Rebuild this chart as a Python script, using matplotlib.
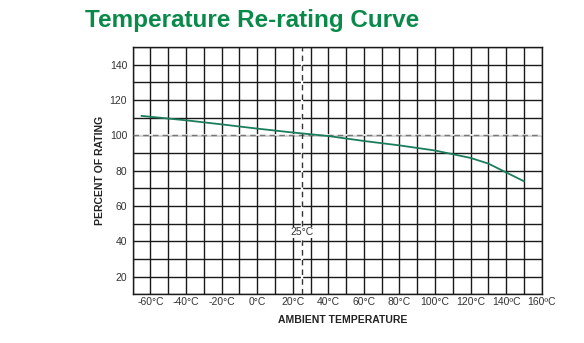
import matplotlib
matplotlib.use("Agg")
import matplotlib.pyplot as plt
import numpy as np

temps = [-65, -40, -20, 0, 20, 40, 60, 80, 100, 120, 130, 150]
percent = [111, 108.5, 106.2, 103.8, 101.6, 99.6, 96.8, 94.3, 91.4, 87.2, 84, 74]
xticks = [-60, -40, -20, 0, 20, 40, 60, 80, 100, 120, 140, 160]
xlabels = ["-60°C", "-40°C", "-20°C", "0°C", "20°C", "40°C", "60°C", "80°C", "100°C", "120°C", "140ºC", "160ºC"]
yticks = [20, 40, 60, 80, 100, 120, 140]

plt.rcParams['font.family'] = ['Liberation Sans', 'DejaVu Sans']

fig = plt.figure(figsize=(5.84, 3.43), dpi=100)
ax = fig.add_axes([132.7/584, 1-294.3/343, 409/584, (294.3-47)/343])
ax.set_xlim(-70, 160)
ax.set_ylim(10, 150)

for xv in np.arange(-70, 161, 10):
    ax.axvline(xv, color='#1a1a1a', lw=1.0, zorder=1)
for yv in np.arange(10, 151, 10):
    ax.axhline(yv, color='#1a1a1a', lw=1.0, zorder=1)

ax.axhline(100, color='white', lw=1.2, zorder=2)
ax.axhline(100, color='#777777', lw=1.0, ls=(0, (4, 3)), zorder=3)
ax.axvline(25, color='white', lw=1.6, zorder=2)
ax.axvline(25, color='#333333', lw=1.0, ls=(0, (4, 3)), zorder=3)
ax.text(25, 45, "25°C", ha='center', va='center', fontsize=7.5, color='#333333',
        bbox=dict(facecolor='white', edgecolor='none', pad=0.5), zorder=4)

ax.plot(temps, percent, color='#1b7d5c', lw=1.3, zorder=5)

for s in ax.spines.values():
    s.set_color('#1a1a1a')
    s.set_linewidth(1.0)
ax.set_xticks(xticks)
ax.set_xticklabels(xlabels)
ax.set_yticks(yticks)
ax.tick_params(axis='x', length=0, labelsize=7.5, labelcolor='#333333', pad=2)
ax.tick_params(axis='y', length=0, labelsize=7.5, labelcolor='#333333', pad=4)

ax.set_xlabel("AMBIENT TEMPERATURE", fontsize=7.5, fontweight='bold', color='#222222')
ax.set_ylabel("PERCENT OF RATING", fontsize=7.5, fontweight='bold', color='#222222')
ax.xaxis.set_label_coords((343 - 132.7) / 409, -(320 - 294.3) / 247.3)
ax.yaxis.set_label_coords(-(132.7 - 100) / 409, (294.3 - 170) / 247.3)
ax.xaxis.label.set_va('center')
ax.yaxis.label.set_va('center')

fig.text(85/584, 1-20/343, "Temperature Re-rating Curve", fontsize=17.5, fontweight='bold',
         color='#0a8a4a', ha='left', va='center')

fig.savefig("out.png", dpi=100)
